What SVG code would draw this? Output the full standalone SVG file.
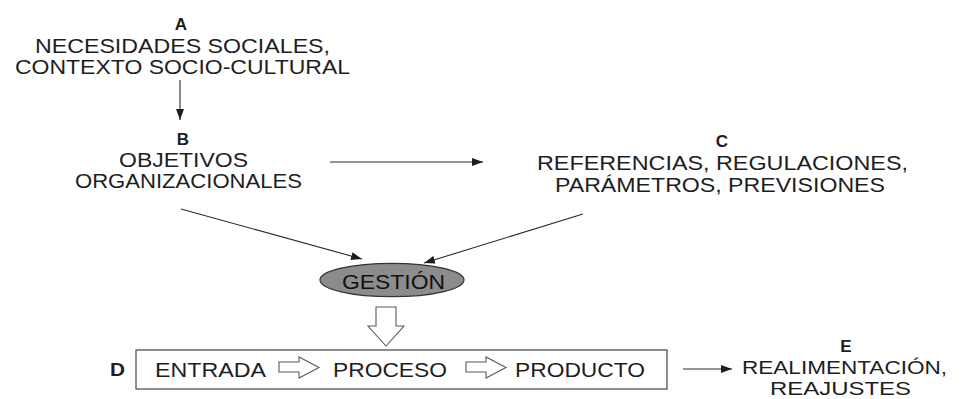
<svg xmlns="http://www.w3.org/2000/svg" width="962" height="399" viewBox="0 0 962 399">
<style>
text{font-family:"Liberation Sans",Arial,sans-serif;fill:#1e1e1e}
.t{font-size:20.5px}
.s{font-size:18.5px}
.b{font-size:17px;font-weight:bold;text-anchor:middle}
.c{stroke:#2a2a2a;stroke-width:1.1;fill:none}
.h{fill:#fff;stroke:#5a5a5a;stroke-width:1.1;stroke-linejoin:miter}
</style>
<defs>
<marker id="ah" markerWidth="11" markerHeight="8" refX="11" refY="4" orient="auto" markerUnits="userSpaceOnUse">
<path d="M0,0 L11,4 L0,8 z" fill="#1e1e1e"/>
</marker>
</defs>
<rect width="962" height="399" fill="#fff"/>
<g id="nodeA">
<text class="b" x="181" y="30">A</text>
<text class="t" x="35" y="53" textLength="295" lengthAdjust="spacingAndGlyphs">NECESIDADES SOCIALES,</text>
<text class="t" x="15" y="74" textLength="335" lengthAdjust="spacingAndGlyphs">CONTEXTO SOCIO-CULTURAL</text>
</g>
<g id="nodeB">
<text class="b" x="183" y="145">B</text>
<text class="t" x="119" y="167" textLength="129" lengthAdjust="spacingAndGlyphs">OBJETIVOS</text>
<text class="t" x="75" y="188" textLength="227" lengthAdjust="spacingAndGlyphs">ORGANIZACIONALES</text>
</g>
<g id="nodeC">
<text class="b" x="722" y="147">C</text>
<text class="t" x="537" y="170" textLength="371" lengthAdjust="spacingAndGlyphs">REFERENCIAS, REGULACIONES,</text>
<text class="t" x="555" y="192" textLength="330" lengthAdjust="spacingAndGlyphs">PARÁMETROS, PREVISIONES</text>
</g>
<g id="gestion">
<ellipse cx="392" cy="280" rx="72" ry="16.7" fill="#8c8c8c" stroke="#333" stroke-width="1.2"/>
<text class="t" x="342" y="289" textLength="103" lengthAdjust="spacingAndGlyphs" style="fill:#111">GESTIÓN</text>
</g>
<g id="nodeD">
<text x="110" y="376" style="font-size:19px;font-weight:bold" textLength="15" lengthAdjust="spacingAndGlyphs">D</text>
<rect x="136" y="350" width="531" height="39" fill="none" stroke="#444" stroke-width="1.2"/>
<text class="t" x="155" y="377" textLength="111" lengthAdjust="spacingAndGlyphs">ENTRADA</text>
<polygon class="h" points="279,362 299,362 299,357 319,367.5 299,378 299,372 279,372"/>
<text class="t" x="333" y="377" textLength="114" lengthAdjust="spacingAndGlyphs">PROCESO</text>
<polygon class="h" points="466,362 486,362 486,357 506,367.5 486,378 486,372 466,372"/>
<text class="t" x="515" y="377" textLength="130" lengthAdjust="spacingAndGlyphs">PRODUCTO</text>
</g>
<g id="nodeE">
<text class="b" x="846" y="352">E</text>
<text class="s" x="742" y="374" textLength="205" lengthAdjust="spacingAndGlyphs">REALIMENTACIÓN,</text>
<text class="s" x="770" y="395" textLength="141" lengthAdjust="spacingAndGlyphs">REAJUSTES</text>
</g>
<g id="connectors">
<line class="c" x1="180" y1="80" x2="180" y2="120" marker-end="url(#ah)"/>
<line class="c" x1="330" y1="162" x2="483" y2="162" marker-end="url(#ah)"/>
<line class="c" x1="181" y1="209" x2="362" y2="259" marker-end="url(#ah)"/>
<line class="c" x1="583" y1="214" x2="424" y2="263" marker-end="url(#ah)"/>
<polygon class="h" points="376,307 396,307 396,326 404,326 386,346 368,326 376,326"/>
<line class="c" x1="683" y1="369" x2="732" y2="369" marker-end="url(#ah)"/>
</g>
</svg>
